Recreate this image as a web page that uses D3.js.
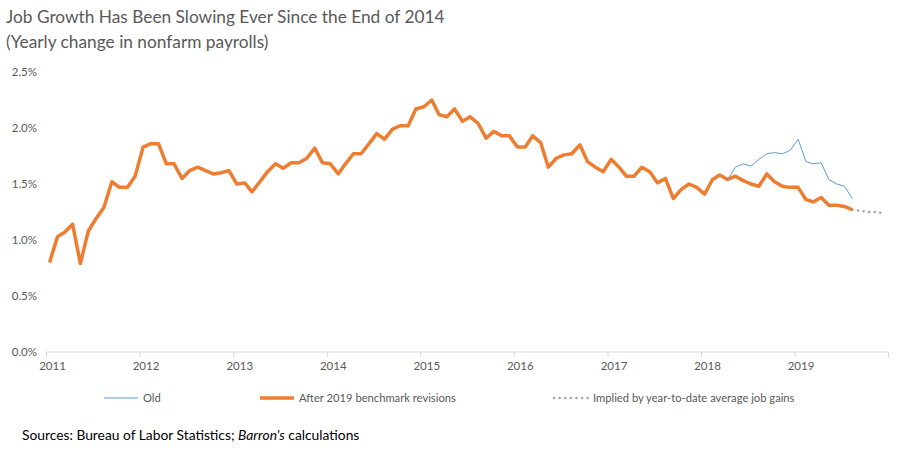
<!DOCTYPE html>
<html>
<head>
<meta charset="utf-8">
<script src="https://cdn.jsdelivr.net/npm/d3@7"></script>
<style>
  body { margin: 0; background: #fff; }
  text { font-family: Lato, "Open Sans", sans-serif; }
</style>
</head>
<body>
<svg id="chart" width="902" height="468"></svg>
<script>
// monthly yearly change in nonfarm payrolls, % (Jan 2011 -> Aug 2019)
const firstMonth = new Date(2011, 0, 1);
const revisedValues = [
  0.80, 1.03, 1.07, 1.14, 0.79, 1.08, 1.19, 1.29, 1.52, 1.47, 1.47, 1.57,
  1.83, 1.86, 1.86, 1.68, 1.68, 1.55, 1.62, 1.65, 1.62, 1.59, 1.60, 1.62,
  1.50, 1.51, 1.43, 1.52, 1.61, 1.68, 1.64, 1.69, 1.69, 1.73, 1.82, 1.69,
  1.68, 1.59, 1.68, 1.77, 1.77, 1.86, 1.95, 1.90, 1.99, 2.02, 2.02, 2.17,
  2.19, 2.25, 2.12, 2.10, 2.17, 2.06, 2.10, 2.04, 1.91, 1.97, 1.93, 1.93,
  1.83, 1.83, 1.93, 1.87, 1.65, 1.73, 1.76, 1.77, 1.85, 1.70, 1.65, 1.61,
  1.72, 1.65, 1.57, 1.57, 1.65, 1.61, 1.51, 1.55, 1.37, 1.45, 1.50, 1.47,
  1.41, 1.54, 1.58, 1.54, 1.57, 1.53, 1.50, 1.48, 1.59, 1.52, 1.48, 1.47,
  1.47, 1.36, 1.34, 1.38, 1.31, 1.31, 1.30, 1.27
];
// old (pre-benchmark) series, Apr 2018 -> Aug 2019
const oldStart = new Date(2018, 3, 1);
const oldValues = [
  1.54, 1.65, 1.68, 1.66, 1.72, 1.77, 1.78, 1.77, 1.80, 1.90, 1.70, 1.68,
  1.69, 1.54, 1.50, 1.48, 1.37
];
// implied by year-to-date average job gains, Aug 2019 -> Dec 2019
const impliedStart = new Date(2019, 7, 1);
const impliedValues = [1.27, 1.26, 1.25, 1.25, 1.24];

const yTicks = [0, 0.5, 1.0, 1.5, 2.0, 2.5];
const yearTicks = [2011, 2012, 2013, 2014, 2015, 2016, 2017, 2018, 2019, 2020];

const legendItems = [
  { name: 'Old', color: '#5B9BD5', width: 1, dash: null },
  { name: 'After 2019 benchmark revisions', color: '#ED7D31', width: 3.5, dash: null },
  { name: 'Implied by year-to-date average job gains', color: '#A5A5A5', width: 2.5, dash: '0.1 5.5' }
];

function toSeries(start, values) {
  return values.map((v, i) => ({ date: d3.timeDay.offset(d3.timeMonth.offset(start, i), 14), value: v }));
}

var svg = d3.select('#chart');
var textColor = '#595959';

var x = d3.scaleTime()
  .domain([firstMonth, new Date(2020, 0, 1)])
  .range([46, 888]);
var y = d3.scaleLinear()
  .domain([0, 2.5])
  .range([352, 72]);

// title
svg.append('text')
  .attr('x', 6).attr('y', 23)
  .attr('fill', textColor)
  .style('font-size', '17.3px')
  .text('Job Growth Has Been Slowing Ever Since the End of 2014');
svg.append('text')
  .attr('x', 6).attr('y', 48)
  .attr('fill', textColor)
  .style('font-size', '17.3px')
  .text('(Yearly change in nonfarm payrolls)');

// y axis labels
var yAxis = d3.axisLeft(y)
  .tickValues(yTicks)
  .tickSize(0)
  .tickPadding(0)
  .tickFormat(d => d.toFixed(1) + '%');
var yG = svg.append('g')
  .attr('transform', 'translate(37,0)')
  .call(yAxis);
yG.select('.domain').remove();
yG.selectAll('text')
  .attr('fill', textColor)
  .style('font-size', '11.5px')
  .attr('font-family', null);

// x axis
var xAxis = d3.axisBottom(x)
  .tickValues(yearTicks.map(yr => new Date(yr, 0, 1)))
  .tickSize(5)
  .tickPadding(5)
  .tickFormat(d => d.getFullYear() < 2020 ? d3.timeFormat('%Y')(d) : '');
var xG = svg.append('g')
  .attr('transform', 'translate(0,352)')
  .call(xAxis);
xG.select('.domain')
  .attr('d', `M${x.range()[0]},0H${x.range()[1]}`)
  .attr('stroke', '#D9D9D9');
xG.selectAll('.tick line').attr('stroke', '#D9D9D9');
xG.selectAll('.tick text')
  .attr('fill', textColor)
  .attr('dx', 6)
  .style('font-size', '11.5px')
  .attr('font-family', null);

var line = d3.line()
  .x(d => x(d.date))
  .y(d => y(d.value));

// implied (dotted) line
svg.append('path')
  .datum(toSeries(impliedStart, impliedValues))
  .attr('d', line)
  .attr('fill', 'none')
  .attr('stroke', legendItems[2].color)
  .attr('stroke-width', legendItems[2].width)
  .attr('stroke-linecap', 'round')
  .attr('stroke-dasharray', legendItems[2].dash);

// revised line
svg.append('path')
  .datum(toSeries(firstMonth, revisedValues))
  .attr('d', line)
  .attr('fill', 'none')
  .attr('stroke', legendItems[1].color)
  .attr('stroke-width', legendItems[1].width)
  .attr('stroke-linejoin', 'round');

// old line
svg.append('path')
  .datum(toSeries(oldStart, oldValues))
  .attr('d', line)
  .attr('fill', 'none')
  .attr('stroke', legendItems[0].color)
  .attr('stroke-width', legendItems[0].width)
  .attr('stroke-linejoin', 'round');

// legend
var legendX = [104, 260, 554];
var legend = svg.append('g').selectAll('g')
  .data(legendItems)
  .enter()
  .append('g')
  .attr('transform', (d, i) => `translate(${legendX[i]},398)`);
legend.append('line')
  .attr('x1', 0).attr('x2', 34)
  .attr('stroke', d => d.color)
  .attr('stroke-width', d => d.width)
  .attr('stroke-linecap', d => d.dash ? 'round' : 'butt')
  .attr('stroke-dasharray', d => d.dash);
legend.append('text')
  .attr('x', 39).attr('y', 4)
  .attr('fill', textColor)
  .style('font-size', '11.2px')
  .text(d => d.name);

// source note
var src = svg.append('text')
  .attr('x', 22).attr('y', 440)
  .attr('fill', '#000')
  .style('font-size', '13.8px');
src.append('tspan').text('Sources: Bureau of Labor Statistics; ');
src.append('tspan').style('font-style', 'italic').text("Barron's");
src.append('tspan').text(' calculations');
</script>
</body>
</html>
